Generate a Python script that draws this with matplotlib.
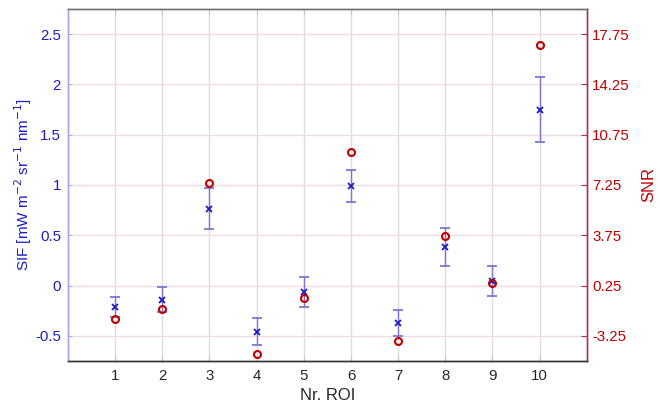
import numpy as np
import matplotlib.pyplot as plt

plt.rcParams['font.family'] = ['Liberation Sans', 'DejaVu Sans']

roi = [1, 2, 3, 4, 5, 6, 7, 8, 9, 10]
sif = [-0.21, -0.14, 0.765, -0.46, -0.063, 0.99, -0.375, 0.38, 0.045, 1.75]
sif_err = [0.10, 0.125, 0.20, 0.135, 0.15, 0.16, 0.13, 0.19, 0.145, 0.32]
snr = [-2.05, -1.35, 7.42, -4.48, -0.6, 9.57, -3.63, 3.68, 0.44, 17.0]

left_ticks = [-0.5, 0, 0.5, 1, 1.5, 2, 2.5]
left_labels = ['-0.5', '0', '0.5', '1', '1.5', '2', '2.5']
right_ticks = [-3.25, 0.25, 3.75, 7.25, 10.75, 14.25, 17.75]

blue = '#1c1cc0'
red = '#c00000'

fig = plt.figure(figsize=(6.6, 4.05), dpi=100)
ax1 = fig.add_axes([0.103, 0.1086, 0.786, 0.8694])
ax2 = ax1.twinx()

# grid: vertical grey, horizontal pink
for x in roi:
    ax1.axvline(x, color='#dedede', lw=1.0, zorder=0)
for y in left_ticks:
    ax1.axhline(y, color='#f2dce3', lw=1.0, zorder=0)

eb = ax1.errorbar(roi, sif, yerr=sif_err, fmt='none', ecolor='#7878d4',
                  elinewidth=1.0, capsize=3.8, capthick=1.3, zorder=3)
for cap in eb[1]:
    cap.set_color(blue)
ax1.plot(roi, sif, 'x', color=blue, ms=4, mew=1.3, zorder=4)

ax2.plot(roi, snr, 'o', mfc='none', mec=red, ms=5, mew=1.5, zorder=5)

ax1.set_xlim(0, 11)
ax1.set_ylim(-0.75, 2.75)
ax2.set_ylim(-5, 19.5)
ax1.set_xticks(roi)
ax1.set_yticks(left_ticks)
ax1.set_yticklabels(left_labels)
ax2.set_yticks(right_ticks)
ax2.set_yticklabels([f'{t:g}' for t in right_ticks])

ax1.tick_params(axis='x', direction='in', length=4, color='#c8c8c8', labelcolor='#262626',
                labelsize=10.8, top=True, pad=6)
ax1.tick_params(axis='y', direction='in', length=3, color='#b0b0e0', labelcolor=blue,
                labelsize=10.8, pad=5)
ax2.tick_params(axis='y', direction='in', length=4, color='#a8344a', labelcolor=red,
                labelsize=10.8, pad=4)

ax1.set_xlabel('Nr. ROI', color='#262626', fontsize=12, labelpad=3)
ax1.set_ylabel('SIF [mW m$^{-2}$ sr$^{-1}$ nm$^{-1}$]', color=blue, fontsize=11, labelpad=1)
ax2.set_ylabel('SNR', color=red, fontsize=12, labelpad=8, rotation=90)

for ax in (ax1, ax2):
    ax.spines['top'].set_color('#707070')
    ax.spines['bottom'].set_color('#303030')
    ax.spines['left'].set_color('#a8a8dc')
    ax.spines['right'].set_color('#a8344a')
    for s in ax.spines.values():
        s.set_linewidth(1.0)

fig.savefig('out.png', dpi=100)
